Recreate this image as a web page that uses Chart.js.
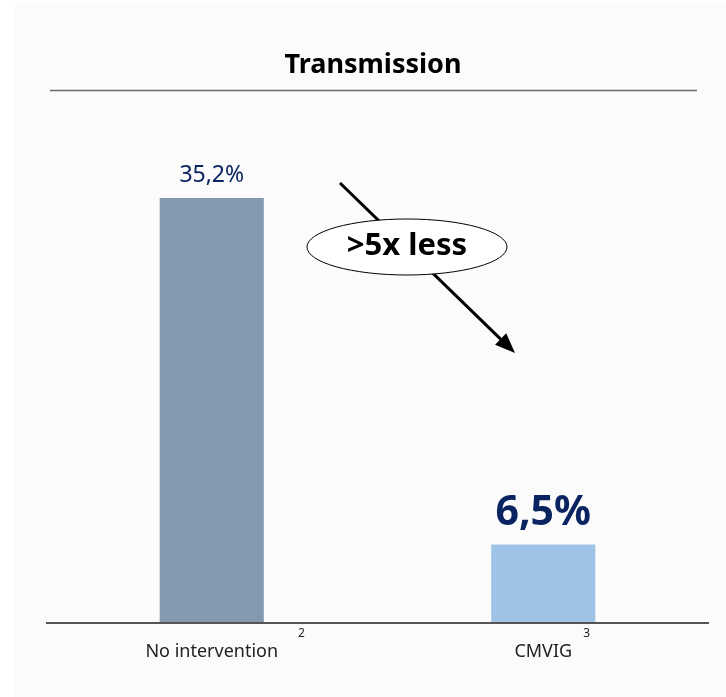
<!DOCTYPE html>
<html>
<head>
<meta charset="utf-8">
<script src="https://cdn.jsdelivr.net/npm/chart.js@4"></script>
<style>
  html, body { margin: 0; padding: 0; background: #ffffff; }
  #wrap { position: relative; width: 726px; height: 697px; }
  #panel { position: absolute; left: 15px; top: 3px; right: 0; bottom: 0; background: #fbfbfb; }
  canvas { position: absolute; left: 0; top: 0; }
</style>
</head>
<body>
<div id="wrap">
  <div id="panel"></div>
  <canvas id="c" width="726" height="697"></canvas>
</div>
<script>
const categories = ['No intervention', 'CMVIG'];
const footnotes = ['2', '3'];
const transmission = [35.2, 6.5];
const valueLabels = ['35,2%', '6,5%'];
const barColors = ['#8498b0', '#9fc3e7'];
const titleText = 'Transmission';
const calloutText = '>5x less';

const FONT = '"Noto Sans", "Open Sans", sans-serif';

const decorations = {
  id: 'decorations',
  afterDatasetsDraw(chart) {
    const { ctx, chartArea, scales } = chart;
    const x = scales.x, y = scales.y;
    ctx.save();

    // title and rule under it
    ctx.fillStyle = '#000';
    ctx.font = 'bold 27px ' + FONT;
    ctx.textAlign = 'center';
    ctx.textBaseline = 'middle';
    ctx.fillText(titleText, 373, 65);
    ctx.strokeStyle = '#6a6a6a';
    ctx.lineWidth = 1.5;
    ctx.beginPath();
    ctx.moveTo(50, 90.5);
    ctx.lineTo(697, 90.5);
    ctx.stroke();

    // baseline
    const base = y.getPixelForValue(0);
    ctx.strokeStyle = '#555';
    ctx.lineWidth = 2;
    ctx.beginPath();
    ctx.moveTo(chartArea.left, base);
    ctx.lineTo(chartArea.right, base);
    ctx.stroke();

    // category labels with footnote marks
    const meta = chart.getDatasetMeta(0);
    categories.forEach((cat, i) => {
      const cx = x.getPixelForValue(i);
      ctx.fillStyle = '#222';
      ctx.font = '18px ' + FONT;
      ctx.textAlign = 'center';
      ctx.textBaseline = 'middle';
      ctx.fillText(cat, cx, base + 29);
      const w = ctx.measureText(cat).width;
      ctx.font = '12px ' + FONT;
      ctx.textAlign = 'left';
      const sx = i === 0 ? cx + w / 2 + 20 : cx + 40;
      ctx.fillText(footnotes[i], sx, base + 11);
    });

    // value labels
    meta.data.forEach((bar, i) => {
      ctx.fillStyle = '#0a2462';
      ctx.textAlign = 'center';
      ctx.textBaseline = 'middle';
      if (i === 0) {
        ctx.font = '23px ' + FONT;
        ctx.fillText(valueLabels[i], bar.x, bar.y - 23);
      } else {
        ctx.font = 'bold 41px ' + FONT;
        ctx.fillText(valueLabels[i], bar.x, bar.y - 31);
      }
    });

    // arrow between the bars
    const x0 = 340, y0 = 183, x1 = 515, y1 = 353;
    const ang = Math.atan2(y1 - y0, x1 - x0);
    const head = 20, half = 8;
    ctx.strokeStyle = '#000';
    ctx.lineWidth = 3;
    ctx.beginPath();
    ctx.moveTo(x0, y0);
    ctx.lineTo(x1 - head * Math.cos(ang), y1 - head * Math.sin(ang));
    ctx.stroke();
    ctx.fillStyle = '#000';
    ctx.beginPath();
    ctx.moveTo(x1, y1);
    ctx.lineTo(x1 - head * Math.cos(ang) + half * Math.sin(ang), y1 - head * Math.sin(ang) - half * Math.cos(ang));
    ctx.lineTo(x1 - head * Math.cos(ang) - half * Math.sin(ang), y1 - head * Math.sin(ang) + half * Math.cos(ang));
    ctx.closePath();
    ctx.fill();

    // callout ellipse
    ctx.beginPath();
    ctx.ellipse(407, 247, 100, 28, 0, 0, Math.PI * 2);
    ctx.fillStyle = '#fff';
    ctx.fill();
    ctx.lineWidth = 1;
    ctx.strokeStyle = '#000';
    ctx.stroke();
    ctx.fillStyle = '#000';
    ctx.font = 'bold 31px ' + FONT;
    ctx.textAlign = 'center';
    ctx.textBaseline = 'middle';
    ctx.fillText(calloutText, 407, 246);

    ctx.restore();
  }
};

new Chart(document.getElementById('c'), {
  type: 'bar',
  data: {
    labels: categories,
    datasets: [{
      data: transmission,
      backgroundColor: barColors,
      borderWidth: 0,
      barPercentage: 0.314,
      categoryPercentage: 1
    }]
  },
  options: {
    responsive: false,
    animation: false,
    devicePixelRatio: 1,
    layout: { padding: { left: 46, right: 17, top: 140, bottom: 74 } },
    plugins: { legend: { display: false }, tooltip: { enabled: false } },
    scales: {
      x: { display: false },
      y: { display: false, min: 0, max: 40 }
    }
  },
  plugins: [decorations]
});
</script>
</body>
</html>
